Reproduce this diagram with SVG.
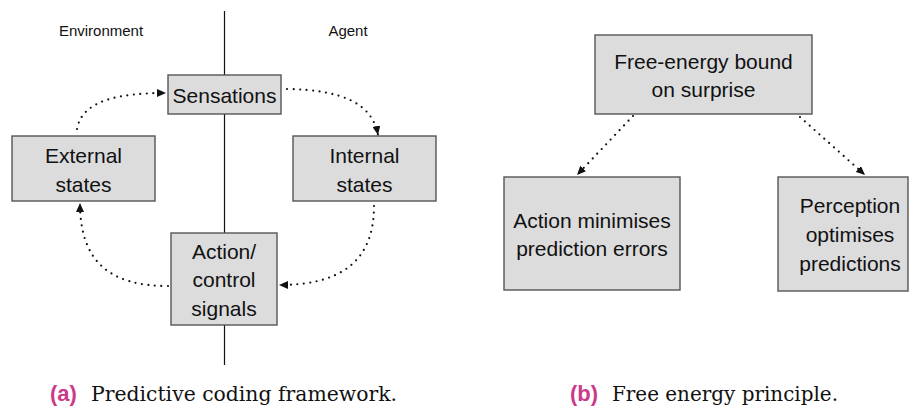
<svg xmlns="http://www.w3.org/2000/svg" width="911" height="410" viewBox="0 0 911 410">
<defs>
<style>
.box{fill:#dcdcdd;stroke:#555;stroke-width:1.4}
.t{font-family:"Liberation Sans","DejaVu Sans",sans-serif;font-size:21px;fill:#111;text-anchor:middle}
.s{font-family:"Liberation Sans","DejaVu Sans",sans-serif;font-size:15px;fill:#111;text-anchor:middle}
.dot{fill:none;stroke:#111;stroke-width:2.2;stroke-linecap:round;stroke-dasharray:0 6.5;marker-end:url(#ah)}
.cap{font-family:"DejaVu Serif","Liberation Serif",serif;font-size:20px;fill:#111}
.lab{font-family:"Liberation Sans","DejaVu Sans",sans-serif;font-size:22px;font-weight:bold;fill:#cc3a8a}
</style>
<marker id="ah" markerUnits="userSpaceOnUse" markerWidth="10" markerHeight="8" refX="9" refY="4" orient="auto">
<path d="M0,0 L9,4 L0,8 z" fill="#111"/>
</marker>
</defs>
<line x1="224.5" y1="11" x2="224.5" y2="365" stroke="#111" stroke-width="1.2"/>
<text class="s" x="101" y="36">Environment</text>
<text class="s" x="348" y="36">Agent</text>
<g id="connectors">
<path class="dot" d="M77,129 C82,100 120,93 166,93"/>
<path class="dot" d="M287,89 C340,90 372,102 378,135"/>
<path class="dot" d="M374,206 C374,262 340,285 279,285"/>
<path class="dot" d="M168,286 C110,286 80,262 80,203"/>
<path class="dot" d="M633,116 L577,175"/>
<path class="dot" d="M800,117 L865,175"/>
</g>
<g id="sensations">
<rect class="box" x="168" y="75" width="113" height="39"/>
<text class="t" x="224.5" y="103">Sensations</text>
</g>
<g id="external">
<rect class="box" x="12" y="136" width="143" height="65"/>
<text class="t" x="83.5" y="163">External</text>
<text class="t" x="83.5" y="192">states</text>
</g>
<g id="internal">
<rect class="box" x="293" y="136" width="143" height="65"/>
<text class="t" x="364.5" y="163">Internal</text>
<text class="t" x="364.5" y="192">states</text>
</g>
<g id="action">
<rect class="box" x="171" y="233" width="106" height="92"/>
<text class="t" x="224" y="259">Action/</text>
<text class="t" x="224" y="287">control</text>
<text class="t" x="224" y="316">signals</text>
</g>
<g id="freeenergy">
<rect class="box" x="595" y="35" width="217" height="79"/>
<text class="t" x="703.5" y="69">Free-energy bound</text>
<text class="t" x="703.5" y="97">on surprise</text>
</g>
<g id="actionmin">
<rect class="box" x="504" y="177" width="176" height="113"/>
<text class="t" x="592" y="228">Action minimises</text>
<text class="t" x="592" y="256">prediction errors</text>
</g>
<g id="perception">
<rect class="box" x="778" y="177" width="130" height="114"/>
<text class="t" x="850" y="213">Perception</text>
<text class="t" x="850" y="242">optimises</text>
<text class="t" x="850" y="271">predictions</text>
</g>
<text class="lab" x="50" y="401">(a)</text>
<text class="cap" x="91" y="401" textLength="306" lengthAdjust="spacingAndGlyphs">Predictive coding framework.</text>
<text class="lab" x="570" y="401">(b)</text>
<text class="cap" x="612" y="401" textLength="226" lengthAdjust="spacingAndGlyphs">Free energy principle.</text>
</svg>
